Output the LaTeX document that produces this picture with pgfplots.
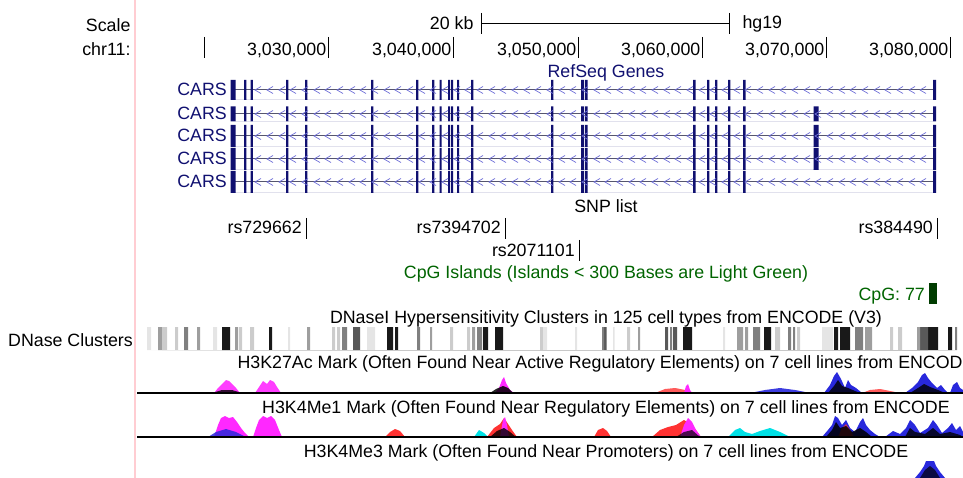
\documentclass[border=0pt]{standalone}
\usepackage{pgfplots}
\pgfplotsset{compat=1.18}
\usepackage{fontspec}
\setmainfont{Liberation Sans}
\definecolor{navy}{RGB}{16,16,112}
\definecolor{chevc}{RGB}{110,110,215}
\definecolor{intron}{RGB}{85,85,110}
\definecolor{pinkline}{RGB}{255,205,210}
\definecolor{cpggreen}{RGB}{0,100,0}
\definecolor{cpgblock}{RGB}{0,60,0}
\definecolor{hmag}{RGB}{255,40,255}
\definecolor{hred}{RGB}{255,50,50}
\definecolor{hblue}{RGB}{40,40,220}
\definecolor{hcyan}{RGB}{0,225,230}
\pgfdeclareplotmark{chev}{%
  \pgfpathmoveto{\pgfqpoint{3pt}{3.5pt}}%
  \pgfpathlineto{\pgfqpoint{-3pt}{0pt}}%
  \pgfpathlineto{\pgfqpoint{3pt}{-3.5pt}}%
  \pgfusepathqstroke}
\newcommand{\fs}{\fontsize{17.8pt}{19pt}\selectfont}
\newcommand{\generow}[4]{% #1 center, #2 half height, #3 half height for exon at 815, #4 label baseline
\addplot[intron,line width=1pt] coordinates {(231,#1)(934,#1)};
\addplot[chevc,only marks,mark=chev,mark options={line width=0.7pt}] coordinates {
(258,#1)(270,#1)(282,#1)(293,#1)(305,#1)(317,#1)(328,#1)(340,#1)(352,#1)(363,#1)(375,#1)(387,#1)(398,#1)(410,#1)(422,#1)(433,#1)(445,#1)(457,#1)(468,#1)(480,#1)(492,#1)(503,#1)(515,#1)(527,#1)(538,#1)(550,#1)(562,#1)(573,#1)(585,#1)(597,#1)(608,#1)(620,#1)(632,#1)(643,#1)(655,#1)(667,#1)(678,#1)(690,#1)(702,#1)(713,#1)(725,#1)(737,#1)(748,#1)(760,#1)(772,#1)(783,#1)(795,#1)(807,#1)(818,#1)(830,#1)(842,#1)(853,#1)(865,#1)(877,#1)(888,#1)(900,#1)(912,#1)(923,#1)};
\addplot[fill=navy,draw=none] coordinates {
(230.5,#1+#2)(230.5,#1-#2)(235.5,#1-#2)(235.5,#1+#2)(244,#1+#2)(244,#1-#2)(246.3,#1-#2)(246.3,#1+#2)
(250.5,#1+#2)(250.5,#1-#2)(252.8,#1-#2)(252.8,#1+#2)(286,#1+#2)(286,#1-#2)(288.3,#1-#2)(288.3,#1+#2)
(305,#1+#2)(305,#1-#2)(307.3,#1-#2)(307.3,#1+#2)(371,#1+#2)(371,#1-#2)(373.3,#1-#2)(373.3,#1+#2)
(416,#1+#2)(416,#1-#2)(418.3,#1-#2)(418.3,#1+#2)(432,#1+#2)(432,#1-#2)(434.3,#1-#2)(434.3,#1+#2)
(439.5,#1+#2)(439.5,#1-#2)(441.5,#1-#2)(441.5,#1+#2)(448,#1+#2)(448,#1-#2)(450,#1-#2)(450,#1+#2)
(451,#1+#2)(451,#1-#2)(453,#1-#2)(453,#1+#2)(457,#1+#2)(457,#1-#2)(459,#1-#2)(459,#1+#2)
(471,#1+#2)(471,#1-#2)(473.3,#1-#2)(473.3,#1+#2)(551,#1+#2)(551,#1-#2)(553.3,#1-#2)(553.3,#1+#2)
(581,#1+#2)(581,#1-#2)(584,#1-#2)(584,#1+#2)(585,#1+#2)(585,#1-#2)(587.5,#1-#2)(587.5,#1+#2)
(693,#1+#2)(693,#1-#2)(695.5,#1-#2)(695.5,#1+#2)(707,#1+#2)(707,#1-#2)(709.3,#1-#2)(709.3,#1+#2)
(715,#1+#2)(715,#1-#2)(717.3,#1-#2)(717.3,#1+#2)(728,#1+#2)(728,#1-#2)(730.3,#1-#2)(730.3,#1+#2)
(743,#1+#2)(743,#1-#2)(745.5,#1-#2)(745.5,#1+#2)(813.5,#1+#2)(813.5,#1+#2-#3-#3)(818.5,#1+#2-#3-#3)(818.5,#1+#2)
(933,#1+#2)(933,#1-#2)(936,#1-#2)(936,#1+#2)} -- cycle;
\node[anchor=base east,font=\fs,text=navy,inner sep=0pt] at (axis cs:227,#4) {CARS};}
\begin{document}
\begin{tikzpicture}
\begin{axis}[width=963pt,height=478pt,scale only axis,
  xmin=0,xmax=963,ymin=0,ymax=478,y dir=reverse,hide axis,clip=true]
% pink guide line
\addplot[pinkline,line width=1.2pt] coordinates {(135,0)(135,478)};
% scale bar
\addplot[black,line width=0.8pt] coordinates {(481,23)(729,23)};
\addplot[black,line width=0.8pt] coordinates {(481,13)(481,34)};
\addplot[black,line width=0.8pt] coordinates {(729,13)(729,34)};
\node[anchor=base east,font=\fs] at (axis cs:477,30) {20 kb};
\node[anchor=base west,font=\fs] at (axis cs:739,29) {hg19};
\node[anchor=base east,font=\fs] at (axis cs:134,32) {Scale};
\node[anchor=base east,font=\fs] at (axis cs:134,56) {chr11:};
% position ticks
\addplot[black,line width=0.9pt] coordinates {(204,37)(204,58)};
\addplot[black,line width=0.9pt] coordinates {(328,37)(328,58)};
\addplot[black,line width=0.9pt] coordinates {(453,37)(453,58)};
\addplot[black,line width=0.9pt] coordinates {(578,37)(578,58)};
\addplot[black,line width=0.9pt] coordinates {(702,37)(702,58)};
\addplot[black,line width=0.9pt] coordinates {(826,37)(826,58)};
\addplot[black,line width=0.9pt] coordinates {(950,37)(950,58)};
\node[anchor=base east,font=\fs,inner sep=0pt] at (axis cs:326.5,56) {3,030,000};
\node[anchor=base east,font=\fs,inner sep=0pt] at (axis cs:451.5,56) {3,040,000};
\node[anchor=base east,font=\fs,inner sep=0pt] at (axis cs:576.5,56) {3,050,000};
\node[anchor=base east,font=\fs,inner sep=0pt] at (axis cs:700.5,56) {3,060,000};
\node[anchor=base east,font=\fs,inner sep=0pt] at (axis cs:824.5,56) {3,070,000};
\node[anchor=base east,font=\fs,inner sep=0pt] at (axis cs:948.5,56) {3,080,000};
% RefSeq
\node[anchor=base,font=\fs,text=navy] at (axis cs:606,78) {RefSeq Genes};
\generow{90}{10}{0}{96}
\generow{114}{7.5}{7.5}{120}
\generow{136}{11}{11}{142}
\generow{159}{11}{11}{165}
\generow{182}{11}{0}{188}
% SNP list
\node[anchor=base,font=\fs] at (axis cs:606,213) {SNP list};
\addplot[black,line width=0.9pt] coordinates {(306,218)(306,239)};
\addplot[black,line width=0.9pt] coordinates {(505,218)(505,239)};
\addplot[black,line width=0.9pt] coordinates {(579,240)(579,261)};
\addplot[black,line width=0.9pt] coordinates {(937,218)(937,239)};
\node[anchor=base east,font=\fs,inner sep=0pt] at (axis cs:302,234) {rs729662};
\node[anchor=base east,font=\fs,inner sep=0pt] at (axis cs:501,234) {rs7394702};
\node[anchor=base east,font=\fs,inner sep=0pt] at (axis cs:575,256) {rs2071101};
\node[anchor=base east,font=\fs,inner sep=0pt] at (axis cs:933,234) {rs384490};
% CpG
\node[anchor=base,font=\fs,text=cpggreen] at (axis cs:606,279) {CpG Islands (Islands < 300 Bases are Light Green)};
\addplot[fill=cpgblock,draw=none] coordinates {(929,304)(929,283)(937,283)(937,304)} -- cycle;
\node[anchor=base east,font=\fs,text=cpggreen,inner sep=0pt] at (axis cs:925,300) {CpG: 77};
% DNase
\node[anchor=base,font=\fs] at (axis cs:606,323) {DNaseI Hypersensitivity Clusters in 125 cell types from ENCODE (V3)};
\node[anchor=base east,font=\fs,inner sep=0pt,overlay] at (axis cs:133,346) {DNase Clusters};
\addplot[fill=black!90,draw=none] coordinates {
(222,350)(222,327)(230,327)(230,350)(269,350)(269,327)(272,327)(272,350)
(387,350)(387,327)(393,327)(393,350)(395,350)(395,327)(398,327)(398,350)
(483,350)(483,327)(488,327)(488,350)(495,350)(495,327)(503,327)(503,350)
(683,350)(683,327)(692,327)(692,350)(764,350)(764,327)(771,327)(771,350)
(834,350)(834,327)(838,327)(838,350)(840,350)(840,327)(850,327)(850,350)
(928,350)(928,327)(938,327)(938,350)(948,350)(948,327)(952,327)(952,350)} -- cycle;
\addplot[fill=black!65,draw=none] coordinates {
(353,350)(353,327)(360,327)(360,350)(604,350)(604,327)(606.5,327)(606.5,350)
(665,350)(665,327)(668,327)(668,350)(673,350)(673,327)(677,327)(677,350)
(920,350)(920,327)(928,327)(928,350)} -- cycle;
\addplot[fill=black!50,draw=none] coordinates {
(184,350)(184,327)(188,327)(188,350)(342,350)(342,327)(347,327)(347,350)
(417,350)(417,327)(420,327)(420,350)(477,350)(477,327)(482,327)(482,350)
(602,350)(602,327)(604,327)(604,350)(670,350)(670,327)(672,327)(672,350)
(753,350)(753,327)(760,327)(760,350)(788,350)(788,327)(791,327)(791,350)
(793,350)(793,327)(795,327)(795,350)(855,350)(855,327)(863,327)(863,350)
(955,350)(955,327)(957,327)(957,350)} -- cycle;
\addplot[fill=black!38,draw=none] coordinates {
(158,350)(158,327)(162,327)(162,350)(197,350)(197,327)(200,327)(200,350)
(235,350)(235,327)(238,327)(238,350)(307,350)(307,327)(310,327)(310,350)
(430,350)(430,327)(432,327)(432,350)(472,350)(472,327)(475,327)(475,350)
(638,350)(638,327)(640,327)(640,350)(737,350)(737,327)(743,327)(743,350)
(745,350)(745,327)(748,327)(748,350)(865,350)(865,327)(872,327)(872,350)
(917,350)(917,327)(920,327)(920,350)} -- cycle;
\addplot[fill=black!20,draw=none] coordinates {
(162,350)(162,327)(167,327)(167,350)(175,350)(175,327)(178,327)(178,350)
(239,350)(239,327)(242,327)(242,350)(250,350)(250,327)(254,327)(254,350)
(332,350)(332,327)(335,327)(335,350)(337,350)(337,327)(340,327)(340,350)
(450,350)(450,327)(453,327)(453,350)(467,350)(467,327)(470,327)(470,350)
(540,350)(540,327)(543,327)(543,350)(627,350)(627,327)(630,327)(630,350)
(775,350)(775,327)(780,327)(780,350)(797,350)(797,327)(800,327)(800,350)
(890,350)(890,327)(893,327)(893,350)(898,350)(898,327)(902,327)(902,350)} -- cycle;
\addplot[fill=black!10,draw=none] coordinates {
(147,350)(147,327)(151,327)(151,350)(213,350)(213,327)(217,327)(217,350)
(288,350)(288,327)(290,327)(290,350)(367,350)(367,327)(375,327)(375,350)
(543,350)(543,327)(547,327)(547,350)(575,350)(575,327)(577,327)(577,350)
(613,350)(613,327)(614.5,327)(614.5,350)(723,350)(723,327)(725,327)(725,350)
(822,350)(822,327)(833,327)(833,350)} -- cycle;
% H3K27Ac
\node[anchor=base,font=\fs,overlay] at (axis cs:606,368) {H3K27Ac Mark (Often Found Near Active Regulatory Elements) on 7 cell lines from ENCODE};
\addplot[fill=hmag,draw=none,fill opacity=0.9] coordinates {(214,393)(218,388)(222,384)(226,380)(229,381)(232,384)(236,388)(240,393)} -- cycle;
\addplot[fill=hmag,draw=none,fill opacity=0.9] coordinates {(255,393)(259,387)(263,381)(267,384)(270,380)(274,382)(277,387)(281,393)} -- cycle;
\addplot[fill=hred,draw=none,fill opacity=0.8] coordinates {(655,393)(665,389)(675,388)(685,390)(695,393)} -- cycle;
\addplot[fill=hmag,draw=none] coordinates {(495,393)(499,388)(502,380)(504,377)(506,383)(510,390)(514,393)} -- cycle;
\addplot[fill=hmag,draw=none] coordinates {(684,393)(686,386)(688,384)(690,390)(692,393)} -- cycle;
\addplot[fill=hblue,draw=none,fill opacity=0.9] coordinates {(750,393)(765,390)(780,388)(795,390)(810,393)} -- cycle;
\addplot[fill=hblue,draw=none] coordinates {(824,393)(830,385)(834,376)(837,372)(841,379)(845,388)(848,380)(851,385)(856,388)(862,393)} -- cycle;
\addplot[fill=hred,draw=none,fill opacity=0.8] coordinates {(862,393)(870,390)(880,389)(890,391)(900,393)} -- cycle;
\addplot[fill=hblue,draw=none] coordinates {(905,393)(912,388)(918,382)(922,375)(925,373)(928,378)(932,383)(937,388)(941,385)(945,390)(948,393)} -- cycle;
\addplot[fill=hblue,draw=none] coordinates {(950,393)(953,385)(957,382)(960,388)(963,390)(963,393)} -- cycle;
\addplot[fill=black,draw=none,fill opacity=0.85] coordinates {(490,393)(496,389)(503,386)(508,388)(513,393)} -- cycle;
\addplot[fill=black,draw=none,fill opacity=0.8] coordinates {(828,393)(834,386)(838,380)(842,386)(848,388)(855,391)(860,393)} -- cycle;
\addplot[fill=black,draw=none,fill opacity=0.8] coordinates {(910,393)(918,388)(924,384)(930,387)(938,390)(945,393)} -- cycle;
\addplot[fill=black,draw=none,fill opacity=0.8] coordinates {(212,393)(222,390)(232,390)(242,393)} -- cycle;
\addplot[black,line width=1.6pt] coordinates {(137,393)(963,393)};
% H3K4Me1
\node[anchor=base,font=\fs] at (axis cs:606,413) {H3K4Me1 Mark (Often Found Near Regulatory Elements) on 7 cell lines from ENCODE};
\addplot[fill=hmag,draw=none] coordinates {(214,437)(218,425)(221,418)(225,416)(229,418)(233,417)(237,422)(241,428)(245,433)(249,437)} -- cycle;
\addplot[fill=hmag,draw=none] coordinates {(253,437)(256,428)(259,420)(263,416)(267,418)(271,416)(275,420)(279,430)(282,437)} -- cycle;
\addplot[fill=hblue,draw=none,fill opacity=0.85] coordinates {(208,437)(216,432)(226,429)(236,432)(246,437)} -- cycle;
\addplot[fill=hred,draw=none] coordinates {(385,437)(390,432)(395,429)(400,431)(405,437)} -- cycle;
\addplot[fill=hcyan,draw=none] coordinates {(474,437)(479,430)(484,433)(488,437)} -- cycle;
\addplot[fill=hred,draw=none] coordinates {(487,437)(494,428)(500,424)(504,418)(508,424)(512,430)(517,437)} -- cycle;
\addplot[fill=hmag,draw=none] coordinates {(500,437)(503,420)(505,417)(507,425)(509,437)} -- cycle;
\addplot[fill=black,draw=none,fill opacity=0.8] coordinates {(490,437)(497,431)(504,428)(510,432)(516,437)} -- cycle;
\addplot[fill=hred,draw=none] coordinates {(594,437)(598,430)(603,428)(607,431)(611,437)} -- cycle;
\addplot[fill=hred,draw=none] coordinates {(652,437)(660,430)(668,427)(676,425)(684,420)(690,424)(696,430)(701,437)} -- cycle;
\addplot[fill=hmag,draw=none] coordinates {(680,437)(684,425)(688,418)(692,422)(696,430)(701,437)} -- cycle;
\addplot[fill=black,draw=none,fill opacity=0.7] coordinates {(676,437)(684,432)(692,430)(700,437)} -- cycle;
\addplot[fill=hcyan,draw=none] coordinates {(728,437)(735,430)(740,428)(745,432)(752,434)(760,431)(770,428)(780,432)(790,437)} -- cycle;
\addplot[fill=hblue,draw=none] coordinates {(822,437)(828,430)(832,425)(835,416)(838,418)(842,425)(846,420)(850,428)(855,432)(860,422)(863,418)(866,425)(870,430)(875,434)(880,437)} -- cycle;
\addplot[fill=hred,draw=none,fill opacity=0.8] coordinates {(838,437)(842,428)(846,424)(850,430)(854,437)} -- cycle;
\addplot[fill=hblue,draw=none] coordinates {(885,437)(893,431)(900,434)(906,428)(910,420)(915,425)(920,433)(928,428)(933,420)(937,425)(942,433)(948,428)(952,423)(956,430)(960,426)(963,432)(963,437)} -- cycle;
\addplot[fill=black,draw=none,fill opacity=0.85] coordinates {(826,437)(832,430)(836,422)(840,428)(846,426)(852,432)(860,428)(866,432)(872,437)} -- cycle;
\addplot[fill=black,draw=none,fill opacity=0.8] coordinates {(905,437)(910,428)(915,432)(925,434)(933,428)(940,434)(950,432)(960,435)(963,437)} -- cycle;
\addplot[black,line width=1.6pt] coordinates {(137,437)(963,437)};
% H3K4Me3
\node[anchor=base,font=\fs] at (axis cs:606,457) {H3K4Me3 Mark (Often Found Near Promoters) on 7 cell lines from ENCODE};
\addplot[fill=hblue,draw=none] coordinates {(915,478)(920,472)(924,466)(926,461)(934,461)(936,466)(940,472)(945,478)} -- cycle;
\addplot[fill=black,draw=none,fill opacity=0.7] coordinates {(920,478)(925,470)(930,466)(935,470)(940,478)} -- cycle;
\end{axis}
\pgfresetboundingbox
\useasboundingbox (current axis.south west) rectangle (current axis.north east);
\end{tikzpicture}
\end{document}
